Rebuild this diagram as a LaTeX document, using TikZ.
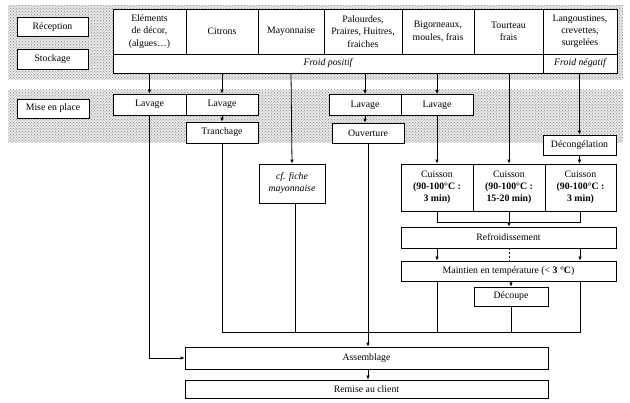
\documentclass[tikz,border=0pt]{standalone}
\usepackage{fontspec}
\setmainfont{Liberation Serif}
\usetikzlibrary{arrows.meta,patterns}
\begin{document}
\begin{tikzpicture}[x=1pt,y=-1pt,
  every node/.style={font=\fontsize{9.8}{12.2}\selectfont},
  box/.style={draw, line width=0.8pt, fill=white, inner sep=0pt, align=center},
  band/.style={pattern=crosshatch dots, pattern color=gray!85},
  ln/.style={line width=0.8pt},
  arr/.style={line width=0.8pt, -{Latex[length=4pt,width=3.6pt]}}]
\useasboundingbox (0,0) rectangle (630,403);
% bands
\fill[gray!20] (8,5) rectangle (623,80);
\fill[band] (8,5) rectangle (623,80);
\fill[gray!20] (8,90) rectangle (623,143);
\fill[band] (8,90) rectangle (623,143);
% left labels
\node[box, minimum width=71pt, minimum height=19pt] (rec) at (52.5,27) {Réception};
\node[box, minimum width=71pt, minimum height=20pt] (sto) at (52.5,59) {Stockage};
\node[box, minimum width=72pt, minimum height=19pt] (mep) at (53,108.5) {Mise en place};
% top table
\node[box, minimum width=73pt, minimum height=45pt] (el) at (149.5,31.5) {Eléments\\de décor,\\(algues…)};
\node[box, minimum width=72pt, minimum height=45pt] (ci) at (222,31.5) {Citrons};
\node[box, minimum width=66pt, minimum height=45pt] (ma) at (291,31.5) {Mayonnaise};
\node[box, minimum width=78pt, minimum height=45pt] (pa) at (363,31.5) {Palourdes,\\Praires, Huitres,\\fraiches};
\node[box, minimum width=72pt, minimum height=45pt] (bi) at (438,31.5) {Bigorneaux,\\moules, frais};
\node[box, minimum width=69pt, minimum height=45pt] (to) at (508.5,31.5) {Tourteau\\frais};
\node[box, minimum width=74pt, minimum height=45pt] (la) at (580,31.5) {Langoustines,\\crevettes,\\surgelées};
\node[box, minimum width=430pt, minimum height=19pt, font=\fontsize{9.8}{12.2}\selectfont\itshape] (fp) at (328,63.5) {Froid positif};
\node[box, minimum width=74pt, minimum height=19pt, font=\fontsize{9.8}{12.2}\selectfont\itshape] (fn) at (580,63.5) {Froid négatif};
% mise en place
\node[box, minimum width=73pt, minimum height=21pt] (lv1) at (149.5,104.5) {Lavage};
\node[box, minimum width=72pt, minimum height=21pt] (lv2) at (222,104.5) {Lavage};
\node[box, minimum width=72pt, minimum height=21pt] (tr) at (222,132.5) {Tranchage};
\node[box, minimum width=72pt, minimum height=21pt] (lv3) at (365,105) {Lavage};
\node[box, minimum width=72pt, minimum height=21pt] (lv4) at (437,105) {Lavage};
\node[box, minimum width=72pt, minimum height=20pt] (ouv) at (368,133) {Ouverture};
\node[box, minimum width=73pt, minimum height=20pt] (dec) at (579.5,145) {Décongélation};
% lower part
\node[box, minimum width=66pt, minimum height=39pt, font=\fontsize{9.8}{12.2}\selectfont\itshape] (cf) at (292,183.5) {cf. fiche\\mayonnaise};
\node[box, minimum width=72pt, minimum height=47pt] (cu1) at (437,187.5) {Cuisson\\\textbf{(90-100°C :}\\\textbf{3 min)}};
\node[box, minimum width=72pt, minimum height=47pt] (cu2) at (509,187.5) {Cuisson\\\textbf{(90-100°C :}\\\textbf{15-20 min)}};
\node[box, minimum width=71pt, minimum height=47pt] (cu3) at (580.5,187.5) {Cuisson\\\textbf{(90-100°C :}\\\textbf{3 min)}};
\node[box, minimum width=215pt, minimum height=21pt] (ref) at (508.5,237.5) {Refroidissement};
\node[box, minimum width=215pt, minimum height=20pt] (mai) at (508.5,271) {Maintien en température (< \textbf{3 °C})};
\node[box, minimum width=74pt, minimum height=19pt] (dcp) at (511,296.5) {Découpe};
\node[box, minimum width=363pt, minimum height=22pt] (ass) at (366.5,358) {Assemblage};
\node[box, minimum width=363pt, minimum height=18pt] (rem) at (366.5,389) {Remise au client};
% connectors top -> mise en place
\draw[arr] (el |- fp.south) -- (lv1.north);
\draw[arr] (ci |- fp.south) -- (lv2.north);
\draw[arr] (ma |- fp.south) -- (cf.north);
\draw[arr] (lv3 |- fp.south) -- (lv3.north);
\draw[arr] (lv4 |- fp.south) -- (lv4.north);
\draw[arr] (cu2 |- fp.south) -- (cu2.north);
\draw[arr] (dec |- fn.south) -- (dec.north);
\draw[arr] (lv2.south) -- (tr.north);
\draw[arr] (lv3.south) -- (lv3.south |- ouv.north);
\draw[arr] (lv4.south) -- (cu1.north);
\draw[arr] (dec.south) -- (dec.south |- cu3.north);
% cuisson -> refroidissement
\coordinate (b1) at (437,222);
\coordinate (b2) at (509,222);
\coordinate (b3) at (580,222);
\draw[ln] (cu1.south) -- (b1) -- (b3) -- (b3 |- cu3.south);
\draw[ln] (cu2.south) -- (b2);
\draw[arr] (b2) -- (b2 |- ref.north);
\draw[arr] (b1 |- ref.south) -- (b1 |- mai.north);
\draw[arr] (b3 |- ref.south) -- (b3 |- mai.north);
\draw[ln, dash pattern=on 2pt off 2pt] (b2 |- ref.south) -- (b2 |- mai.north);
\draw[arr] (dcp.north |- mai.south) -- (dcp.north);
% collector
\coordinate (c1) at (222,332);
\coordinate (c3) at (580,332);
\draw[ln] (tr.south) -- (c1) -- (c3) -- (c3 |- mai.south);
\draw[ln] (b1 |- mai.south) -- (b1 |- c1);
\draw[ln] (dcp.south) -- (dcp.south |- c1);
\draw[ln] (295,0 |- cf.south) -- (295,332);
\draw[arr] (ouv.south) -- (ouv.south |- ass.north);
\coordinate (l1) at (lv1.south |- ass.west);
\draw[arr] (lv1.south) -- (l1) -- (ass.west);
\draw[arr] (ass.south -| ouv.south) -- (rem.north -| ouv.south);
\end{tikzpicture}
\end{document}
